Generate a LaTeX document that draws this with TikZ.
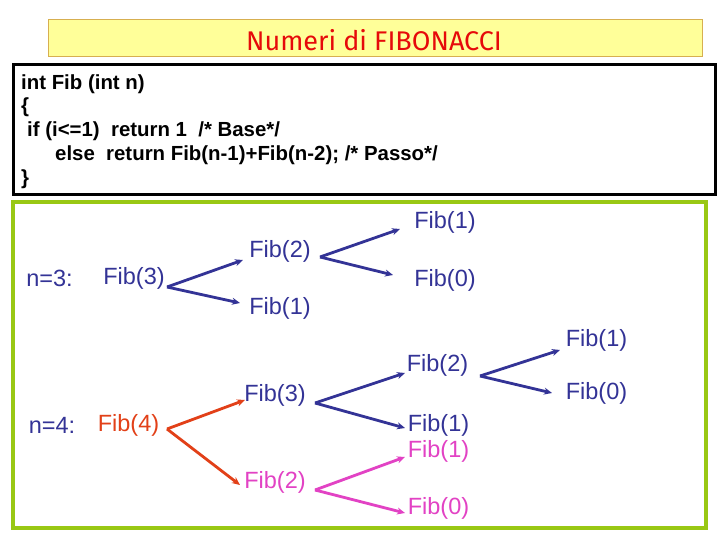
\documentclass[tikz,border=0pt]{standalone}
\usepackage{fontspec}
\setmainfont{Liberation Sans}
\newfontfamily\titlefont{Fira Sans}
\usetikzlibrary{arrows.meta,calc}
\definecolor{navy}{RGB}{51,51,150}
\definecolor{fibred}{RGB}{226,64,24}
\definecolor{fibmag}{RGB}{226,66,196}
\definecolor{framegreen}{RGB}{153,200,20}
\definecolor{titlefill}{RGB}{255,255,153}
\definecolor{titleedge}{RGB}{215,175,80}
\definecolor{titlered}{RGB}{230,10,10}
\tikzset{
  x=1pt,y=1pt,
  codeline/.style={anchor=west,inner sep=0pt,font=\fontsize{20.4}{24}\selectfont\bfseries},
  lbl/.style={inner sep=0pt,font=\fontsize{23.5}{28}\selectfont},
  arr/.style={line width=2.8pt,-{Stealth[length=8pt,width=7pt]}},
}
\begin{document}
\begin{tikzpicture}
\useasboundingbox (0,0) rectangle (720,-540);
\fill[white] (0,0) rectangle (720,-540);
% title
\node[draw=titleedge,fill=titlefill,line width=1pt,minimum width=654,minimum height=37,inner sep=0pt] (titlebox) at (375,-38.5) {};
\node[text=titlered,font=\titlefont\fontsize{27}{30}\selectfont,inner sep=0pt] (title) at (374,-40) {Numeri di FIBONACCI};
% code box
\node[draw=black,fill=white,line width=3pt,minimum width=702,minimum height=130,inner sep=0pt] (codebox) at (364,-130) {};
\node[codeline] (c1) at (21,-84) {int Fib (int n)};
\node[codeline] (c2) at (21,-107) {\{};
\node[codeline] (c3) at (27,-131) {if (i<=1)\ \ return 1\ \ /* Base*/};
\node[codeline] (c4) at (55,-155) {else\ \ return Fib(n-1)+Fib(n-2); /* Passo*/};
\node[codeline] (c5) at (21,-179) {\}};
% green frame
\node[draw=framegreen,fill=white,line width=3.5pt,minimum width=693,minimum height=326,inner sep=0pt] (frame) at (359.5,-365) {};
% n=3 tree
\node[lbl,text=navy] (n3) at (49.5,-278) {n=3:};
\node[lbl,text=navy] (f3a) at (134,-278) {Fib(3)};
\node[lbl,text=navy] (f2a) at (280,-251) {Fib(2)};
\node[lbl,text=navy] (f1a) at (280,-308) {Fib(1)};
\node[lbl,text=navy] (f1b) at (445,-222) {Fib(1)};
\node[lbl,text=navy] (f0b) at (445,-280) {Fib(0)};
\draw[arr,navy] ($(f3a.center)+(33,-9)$) -- ($(f2a.center)+(-37,-9)$);
\draw[arr,navy] ($(f3a.center)+(33,-9)$) -- ($(f1a.center)+(-40,5)$);
\draw[arr,navy] ($(f2a.center)+(40,-6)$) -- ($(f1b.center)+(-45,-7)$);
\draw[arr,navy] ($(f2a.center)+(40,-6)$) -- ($(f0b.center)+(-52,5)$);
% n=4 tree
\node[lbl,text=navy] (n4) at (52,-425) {n=4:};
\node[lbl,text=fibred] (f4) at (128.5,-425) {Fib(4)};
\node[lbl,text=navy] (f3c) at (275,-395) {Fib(3)};
\node[lbl,text=fibmag] (f2c) at (275,-482) {Fib(2)};
\node[lbl,text=navy] (f2d) at (437.5,-365) {Fib(2)};
\node[lbl,text=navy] (f1d) at (438.5,-425) {Fib(1)};
\node[lbl,text=fibmag] (f1e) at (438.5,-451) {Fib(1)};
\node[lbl,text=fibmag] (f0e) at (438.5,-508) {Fib(0)};
\node[lbl,text=navy] (f1f) at (596.5,-340) {Fib(1)};
\node[lbl,text=navy] (f0f) at (596.5,-393) {Fib(0)};
\draw[arr,fibred] ($(f4.center)+(38.5,-4)$) -- ($(f3c.center)+(-30,-5)$);
\draw[arr,fibred] ($(f4.center)+(38.5,-4)$) -- ($(f2c.center)+(-35,-3)$);
\draw[arr,navy] ($(f3c.center)+(40,-8)$) -- ($(f2d.center)+(-32.5,-8)$);
\draw[arr,navy] ($(f3c.center)+(40,-8)$) -- ($(f1d.center)+(-33.5,-3)$);
\draw[arr,fibmag] ($(f2c.center)+(40,-8)$) -- ($(f1e.center)+(-33.5,-6)$);
\draw[arr,fibmag] ($(f2c.center)+(40,-8)$) -- ($(f0e.center)+(-33.5,-5)$);
\draw[arr,navy] ($(f2d.center)+(42.5,-11)$) -- ($(f1f.center)+(-36.5,-10)$);
\draw[arr,navy] ($(f2d.center)+(42.5,-11)$) -- ($(f0f.center)+(-44.5,0)$);
\end{tikzpicture}
\end{document}
